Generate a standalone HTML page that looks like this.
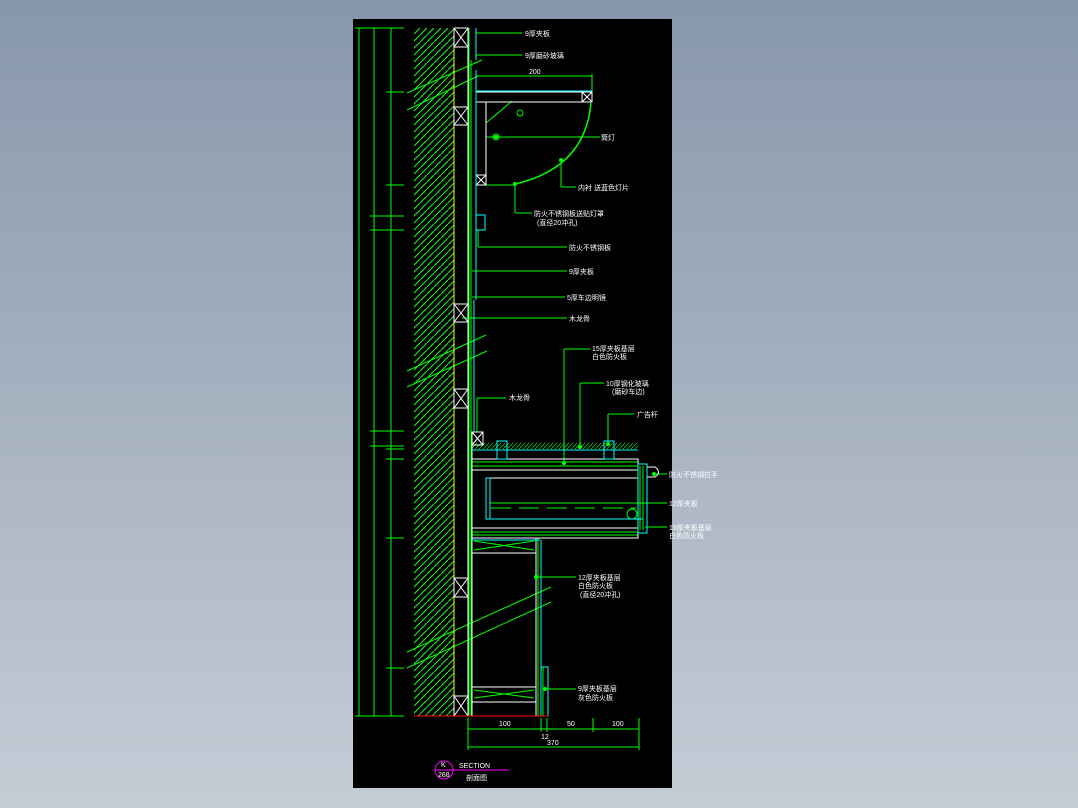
<!DOCTYPE html>
<html><head><meta charset="utf-8"><style>
html,body{margin:0;padding:0;width:1078px;height:808px;overflow:hidden;background:linear-gradient(#8797ab,#c6ccd6);}
svg{position:absolute;left:0;top:0}
text{font-family:"Liberation Sans","Noto Sans CJK SC",sans-serif;font-size:7px;fill:#fff}
</style></head><body>
<svg width="1078" height="808" viewBox="0 0 1078 808">
<defs>
<pattern id="h" width="7" height="7" patternUnits="userSpaceOnUse">
<path d="M-1,8 L8,-1" stroke="#22f022" stroke-width="1.1"/>
</pattern>
<pattern id="ch" width="8" height="4" patternUnits="userSpaceOnUse">
<path d="M0,4 L4,0 M4,4 L8,0" stroke="#1ec81e" stroke-width="0.8"/>
</pattern>
</defs>
<rect x="353" y="19" width="319" height="769" fill="#000"/>
<g stroke="#00ff00" stroke-width="1" fill="none">
<line x1="359" y1="28" x2="359" y2="716"/>
<line x1="374" y1="28" x2="374" y2="716"/>
<line x1="391" y1="28" x2="391" y2="716"/>
<line x1="355" y1="28" x2="404" y2="28"/>
<line x1="355" y1="716" x2="404" y2="716"/>
<line x1="386" y1="92" x2="404" y2="92"/>
<line x1="386" y1="185" x2="404" y2="185"/>
<line x1="370" y1="216" x2="404" y2="216"/>
<line x1="370" y1="230" x2="404" y2="230"/>
<line x1="370" y1="431" x2="404" y2="431"/>
<line x1="370" y1="446" x2="404" y2="446"/>
<line x1="386" y1="449" x2="404" y2="449"/>
<line x1="386" y1="459" x2="404" y2="459"/>
<line x1="386" y1="538" x2="404" y2="538"/>
<line x1="386" y1="668" x2="404" y2="668"/>
<rect x="414" y="28" width="40" height="688" fill="url(#h)" stroke="none"/>
<line x1="469" y1="28" x2="469" y2="716"/>
<line x1="471" y1="60" x2="471" y2="716"/>
<line x1="407" y1="93" x2="482" y2="60"/>
<line x1="407" y1="110" x2="478" y2="76"/>
<line x1="407" y1="371" x2="486" y2="335"/>
<line x1="407" y1="387" x2="487" y2="351"/>
<line x1="407" y1="652" x2="551" y2="587"/>
<line x1="407" y1="668" x2="551" y2="602"/>
<line x1="476" y1="76" x2="592" y2="76"/>
<line x1="592" y1="74" x2="592" y2="92"/>
<path d="M591,103 Q 585,168 515,184" stroke-width="1.5"/>
<line x1="486" y1="123" x2="512" y2="101"/>
<line x1="486" y1="137" x2="600" y2="137"/>
<circle cx="496" cy="137" r="3"/>
<circle cx="520" cy="113" r="3"/>
<line x1="515" y1="184" x2="515" y2="213"/><line x1="515" y1="213" x2="532" y2="213"/>
<line x1="561" y1="160" x2="561" y2="187"/><line x1="561" y1="187" x2="576" y2="187"/>
<line x1="476" y1="185" x2="515" y2="185"/>
<line x1="476" y1="33" x2="522" y2="33"/>
<line x1="476" y1="55" x2="522" y2="55"/>
<line x1="478" y1="230" x2="478" y2="247"/><line x1="478" y1="247" x2="567" y2="247"/>
<line x1="472" y1="271" x2="567" y2="271"/>
<line x1="472" y1="297" x2="565" y2="297"/>
<line x1="462" y1="318" x2="567" y2="318"/>
<line x1="477" y1="398" x2="477" y2="432"/><line x1="477" y1="398" x2="506" y2="398"/>
<line x1="564" y1="349" x2="564" y2="463"/><line x1="564" y1="349" x2="590" y2="349"/>
<line x1="580" y1="383" x2="580" y2="447"/><line x1="580" y1="383" x2="604" y2="383"/>
<line x1="608" y1="414" x2="608" y2="445"/><line x1="608" y1="414" x2="634" y2="414"/>
<line x1="654" y1="474" x2="667" y2="474"/>
<line x1="490" y1="503" x2="667" y2="503"/>
<line x1="645" y1="527" x2="667" y2="527"/>
<line x1="536" y1="577" x2="576" y2="577"/>
<line x1="545" y1="689" x2="576" y2="689"/>
<line x1="472" y1="462" x2="638" y2="462"/>
<line x1="472" y1="466" x2="638" y2="466"/>
<line x1="472" y1="532" x2="638" y2="532"/>
<line x1="472" y1="535" x2="638" y2="535"/>
<line x1="491" y1="508" x2="636" y2="508" stroke-dasharray="20,8"/>
<circle cx="632" cy="514" r="5"/>
<line x1="640" y1="466" x2="640" y2="530"/><line x1="643" y1="466" x2="643" y2="530"/>
<line x1="474" y1="541" x2="534" y2="550"/><line x1="474" y1="550" x2="534" y2="541"/>
<line x1="474" y1="690" x2="534" y2="698"/><line x1="474" y1="698" x2="534" y2="690"/>
<line x1="538" y1="538" x2="538" y2="716"/>
<line x1="543" y1="667" x2="543" y2="716"/>
<line x1="468" y1="729" x2="639" y2="729"/>
<line x1="468" y1="747" x2="639" y2="747"/>
<line x1="468" y1="718" x2="468" y2="750"/>
<line x1="541" y1="718" x2="541" y2="732"/>
<line x1="547" y1="718" x2="547" y2="732"/>
<line x1="593" y1="718" x2="593" y2="732"/>
<line x1="639" y1="718" x2="639" y2="750"/>
</g>
<rect x="472" y="443" width="166" height="6" fill="url(#ch)"/>
<g stroke="#ffff00" fill="none"><line x1="454" y1="28" x2="454" y2="716"/></g>
<g stroke="#fff" fill="none" stroke-width="1">
<line x1="468" y1="28" x2="468" y2="716"/>
<rect x="454" y="28" width="14" height="19"/><path d="M454,28L468,47M468,28L454,47"/>
<rect x="454" y="107" width="14" height="18"/><path d="M454,107L468,125M468,107L454,125"/>
<rect x="454" y="304" width="14" height="18"/><path d="M454,304L468,322M468,304L454,322"/>
<rect x="454" y="389" width="14" height="19"/><path d="M454,389L468,408M468,389L454,408"/>
<rect x="454" y="578" width="14" height="19"/><path d="M454,578L468,597M468,578L454,597"/>
<rect x="454" y="696" width="14" height="20"/><path d="M454,696L468,716M468,696L454,716"/>
<rect x="476" y="92" width="116" height="10"/>
<rect x="582" y="92" width="10" height="10"/><path d="M582,92L592,102M592,92L582,102"/>
<rect x="476" y="102" width="10" height="83"/>
<rect x="476" y="175" width="10" height="10"/><path d="M476,175L486,185M486,175L476,185"/>
<rect x="472" y="432" width="11" height="13"/><path d="M472,432L483,445M483,432L472,445"/>
<line x1="472" y1="445" x2="472" y2="716"/>
<rect x="472" y="459" width="166" height="79"/>
<line x1="472" y1="470" x2="638" y2="470"/>
<line x1="472" y1="528" x2="638" y2="528"/>
<line x1="486" y1="478" x2="638" y2="478"/>
<rect x="472" y="687" width="64" height="15"/>
<line x1="472" y1="538" x2="536" y2="538"/><line x1="472" y1="553" x2="536" y2="553"/>
<line x1="536" y1="538" x2="536" y2="716"/>
<path d="M647,467 L655,467 Q662,472 655,477 L647,477"/>
</g>
<g stroke="#00ffff" fill="none" stroke-width="1">
<line x1="476" y1="28" x2="476" y2="60"/>
<line x1="476" y1="70" x2="476" y2="300"/>
<line x1="474" y1="300" x2="474" y2="432"/>
<line x1="476" y1="91" x2="592" y2="91"/>
<rect x="476" y="215" width="9" height="15"/>
<line x1="472" y1="450" x2="638" y2="450"/>
<rect x="497" y="441" width="10" height="18"/>
<rect x="604" y="441" width="10" height="18"/>
<rect x="486" y="478" width="4" height="41"/>
<line x1="486" y1="519" x2="643" y2="519"/>
<rect x="638" y="464" width="9" height="69"/>
<line x1="472" y1="540" x2="540" y2="540"/>
<line x1="541" y1="540" x2="541" y2="716"/>
<rect x="541" y="667" width="7" height="49"/>
</g>
<line x1="414" y1="716" x2="548" y2="716" stroke="#ff0000"/>
<g fill="#00ff00">
<circle cx="496" cy="137" r="2"/><circle cx="515" cy="184" r="2"/><circle cx="561" cy="160" r="2"/>
<circle cx="564" cy="463" r="2"/><circle cx="580" cy="447" r="2"/><circle cx="608" cy="444" r="2"/>
<circle cx="536" cy="577" r="2"/><circle cx="545" cy="689" r="2"/><circle cx="654" cy="474" r="2"/>
</g>
<g stroke="#ff00ff" fill="none"><circle cx="444" cy="770" r="9"/><line x1="435" y1="770" x2="509" y2="770"/></g>
<text x="525" y="36">9厚夹板</text>
<text x="525" y="58">9厚磨砂玻璃</text>
<text x="529" y="74" font-size="5">200</text>
<text x="601" y="140">筒灯</text>
<text x="578" y="190">内衬 送蓝色灯片</text>
<text x="534" y="216">防火不锈钢板送贴灯罩</text>
<text x="537" y="225">(直径20冲孔)</text>
<text x="569" y="250">防火不锈钢板</text>
<text x="569" y="274">9厚夹板</text>
<text x="567" y="300">5厚车边明镜</text>
<text x="569" y="321">木龙骨</text>
<text x="592" y="351">15厚夹板基层</text>
<text x="592" y="359">白色防火板</text>
<text x="606" y="386">10厚钢化玻璃</text>
<text x="612" y="394">(磨砂车边)</text>
<text x="637" y="417">广告杆</text>
<text x="509" y="400">木龙骨</text>
<text x="669" y="477">防火不锈钢拉手</text>
<text x="669" y="506">12厚夹板</text>
<text x="669" y="530">15厚夹板基层</text>
<text x="669" y="538">白色防火板</text>
<text x="578" y="580">12厚夹板基层</text>
<text x="578" y="588">白色防火板</text>
<text x="580" y="597">(直径20冲孔)</text>
<text x="578" y="691">9厚夹板基层</text>
<text x="578" y="700">灰色防火板</text>
<text x="499" y="726" font-size="5">100</text>
<text x="567" y="726" font-size="5">50</text>
<text x="612" y="726" font-size="5">100</text>
<text x="541" y="739" font-size="5">12</text>
<text x="547" y="745" font-size="5">370</text>
<text x="441" y="767" font-size="6">K</text>
<text x="438" y="777" font-size="6">268</text>
<text x="459" y="768" font-size="9">SECTION</text>
<text x="466" y="780" font-size="8">剖面图</text>
</svg>
</body></html>
